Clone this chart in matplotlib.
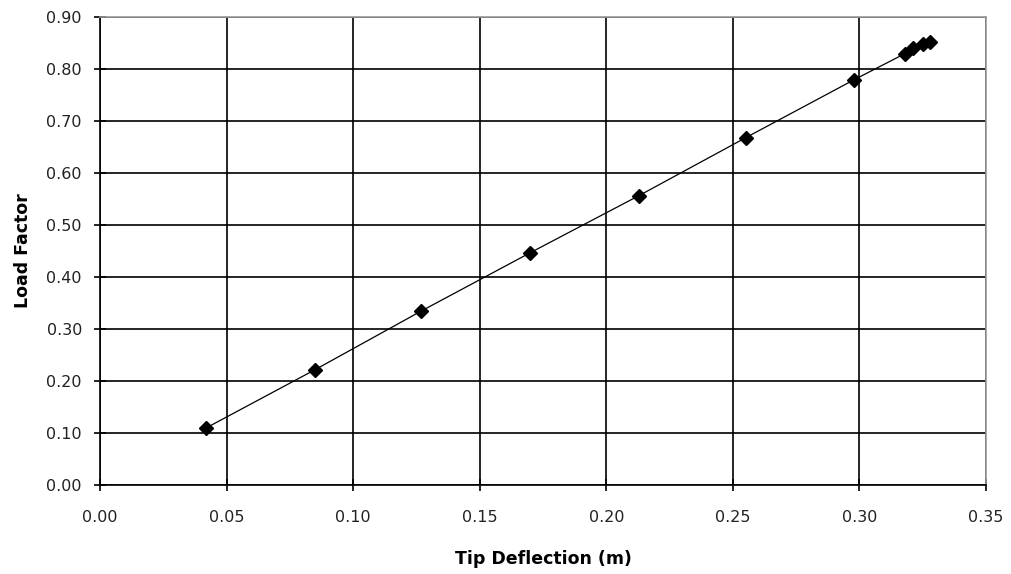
import matplotlib
matplotlib.use("Agg")
import matplotlib.pyplot as plt

# tip deflection (m) vs load factor
deflection = [0.042, 0.085, 0.127, 0.170, 0.213, 0.255, 0.298, 0.318, 0.321, 0.325, 0.328]
load_factor = [0.110, 0.222, 0.335, 0.447, 0.557, 0.668, 0.780, 0.830, 0.840, 0.848, 0.852]

x_ticks = [0.00, 0.05, 0.10, 0.15, 0.20, 0.25, 0.30, 0.35]
y_ticks = [0.00, 0.10, 0.20, 0.30, 0.40, 0.50, 0.60, 0.70, 0.80, 0.90]

plt.rcParams['font.family'] = ['DejaVu Sans']

fig = plt.figure(figsize=(10.12, 5.74), dpi=100, facecolor='white')
ax = fig.add_axes([0.0988, 0.155, 0.8755, 0.815])

ax.plot(deflection, load_factor, color='black', linewidth=0.9,
        marker='D', markersize=7, markerfacecolor='black', markeredgecolor='black', zorder=3)

ax.set_xlim(0, 0.35)
ax.set_ylim(0, 0.90)
ax.set_xticks(x_ticks)
ax.set_yticks(y_ticks)
ax.set_xticklabels(["%.2f" % v for v in x_ticks])
ax.set_yticklabels(["%.2f" % v for v in y_ticks])
ax.grid(True, color='black', linewidth=1.2)
ax.set_axisbelow(True)

ax.tick_params(direction='inout', length=8, width=1.2, labelsize=11.5,
               color='black', labelcolor='#222222')
ax.tick_params(axis='x', pad=14)
ax.tick_params(axis='y', pad=9)
for side in ['left', 'bottom']:
    ax.spines[side].set_color('black')
    ax.spines[side].set_linewidth(1.2)
for side in ['top', 'right']:
    ax.spines[side].set_color('#999999')
    ax.spines[side].set_linewidth(1.2)

ax.set_xlabel("Tip Deflection (m)", fontsize=12.5, fontweight='bold', labelpad=18)
ax.set_ylabel("Load Factor", fontsize=12.5, fontweight='bold', labelpad=10)

fig.savefig("out.png", dpi=100, facecolor='white')
